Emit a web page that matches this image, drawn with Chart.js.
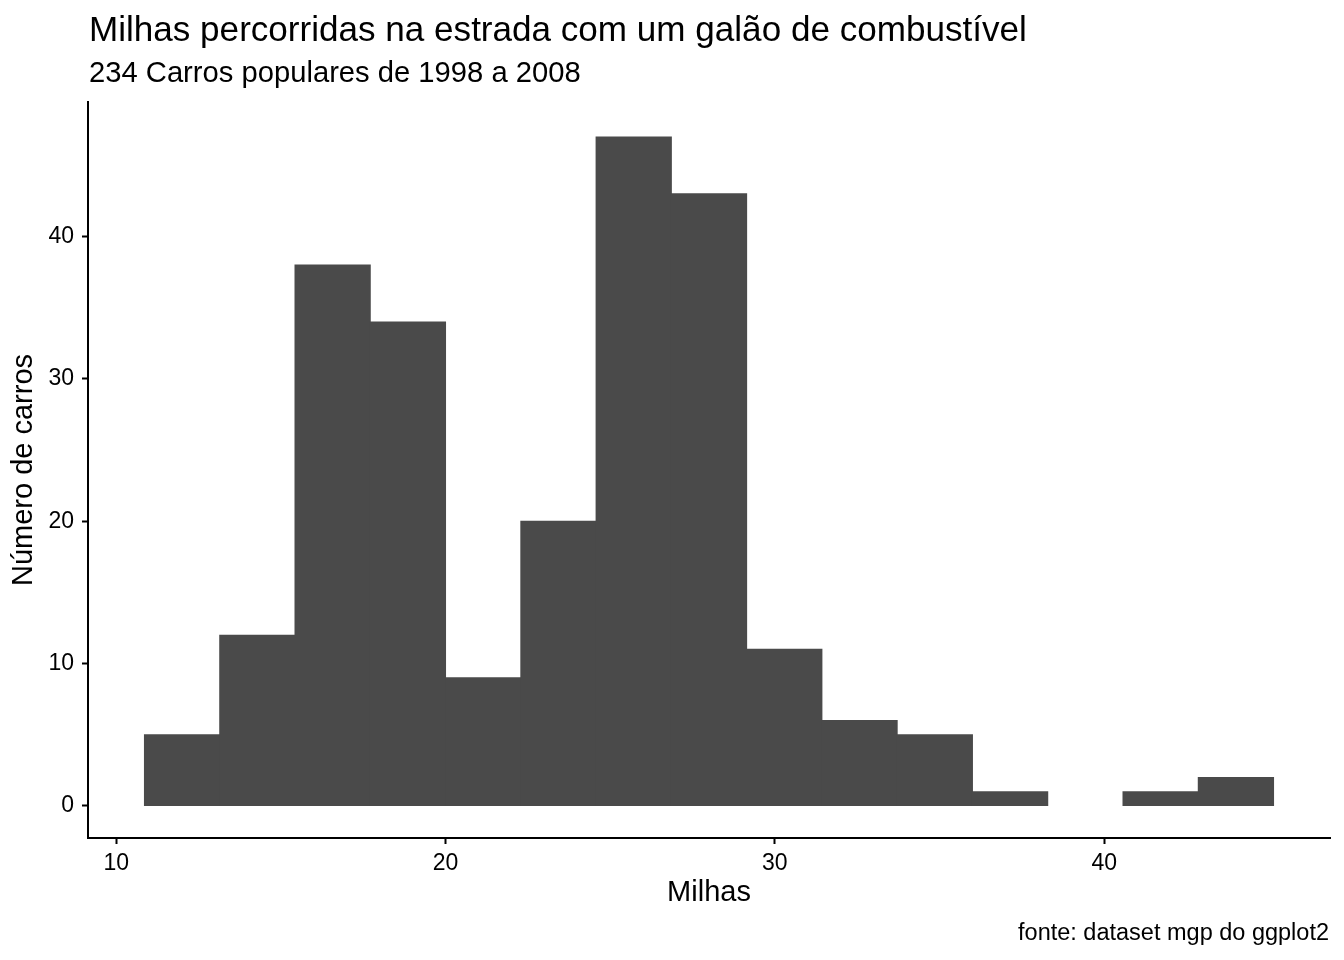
<!DOCTYPE html>
<html>
<head>
<meta charset="utf-8">
<script src="https://cdn.jsdelivr.net/npm/chart.js@4/dist/chart.umd.min.js"></script>
<style>
  body { margin: 0; background: #fff; }
  #wrap { position: relative; width: 1344px; height: 960px; font-family: "Liberation Sans", Arial, sans-serif; color: #000; }
  .txt { position: absolute; white-space: nowrap; }
  #title { left: 89px; top: 11px; font-size: 35.1px; line-height: 35px; }
  #subtitle { left: 89px; top: 58px; font-size: 29.2px; line-height: 29px; }
  #caption { right: 15px; top: 921px; font-size: 23.5px; line-height: 23px; }
</style>
</head>
<body>
<div id="wrap">
  <canvas id="hist"></canvas>
  <div id="title" class="txt">Milhas percorridas na estrada com um galão de combustível</div>
  <div id="subtitle" class="txt">234 Carros populares de 1998 a 2008</div>
  <div id="caption" class="txt">fonte: dataset mgp do ggplot2</div>
</div>
<script>
// centros dos bins (15 bins de largura ~2.29)
var bin_centers = [12, 14.2857, 16.5714, 18.8571, 21.1429, 23.4286, 25.7143, 28,
                   30.2857, 32.5714, 34.8571, 37.1429, 39.4286, 41.7143, 44];
var counts = [5, 12, 38, 34, 9, 20, 47, 43, 11, 6, 5, 1, 0, 1, 2];
var x_ticks = [10, 20, 30, 40];
var y_ticks = [0, 10, 20, 30, 40];

var points = [];
for (var i in bin_centers) {
  points.push({ x: bin_centers[i], y: counts[i] });
}

var font_family = "'Liberation Sans', Arial, sans-serif";

new Chart(document.getElementById("hist"), {
  type: 'bar',
  data: {
    datasets: [{
      data: points,
      backgroundColor: "#4a4a4a",
      borderWidth: 0,
      barPercentage: 1,
      categoryPercentage: 1,
      // no seams between bars, and nothing drawn for the empty bin
      inflateAmount: function(ctx) { return ctx.raw && ctx.raw.y > 0 ? 0.5 : 0; }
    }]
  },
  options: {
    responsive: true,
    maintainAspectRatio: false,
    animation: false,
    layout: { padding: { top: 102, right: 14, bottom: 50, left: 0 } },
    plugins: {
      legend: { display: false },
      tooltip: { enabled: false }
    },
    scales: {
      x: {
        type: 'linear',
        offset: false,
        min: 9.143,
        max: 46.857,
        afterFit: function(scale) { scale.height = 72; },
        afterBuildTicks: function(scale) {
          scale.ticks = x_ticks.map(function(v) { return { value: v }; });
        },
        ticks: {
          color: "#000",
          font: { family: font_family, size: 23 },
          padding: 6,
          maxRotation: 0
        },
        grid: {
          offset: false,
          drawOnChartArea: false,
          drawTicks: true,
          tickLength: 6,
          tickColor: "#000",
          tickWidth: 2
        },
        border: { display: true, color: "#000", width: 2 },
        title: {
          display: true,
          text: "Milhas",
          color: "#000",
          font: { family: font_family, size: 29 },
          padding: { top: 0, bottom: 0 }
        }
      },
      y: {
        type: 'linear',
        min: -2.25,
        max: 49.45,
        afterFit: function(scale) { scale.width = 88; },
        afterBuildTicks: function(scale) {
          scale.ticks = y_ticks.map(function(v) { return { value: v }; });
        },
        ticks: {
          color: "#000",
          font: { family: font_family, size: 23 },
          padding: 8
        },
        grid: {
          drawOnChartArea: false,
          drawTicks: true,
          tickLength: 6,
          tickColor: "#000",
          tickWidth: 2
        },
        border: { display: true, color: "#000", width: 2 },
        title: {
          display: true,
          text: "Número de carros",
          color: "#000",
          font: { family: font_family, size: 29 },
          padding: { top: 7, bottom: 0 }
        }
      }
    }
  }
});
</script>
</body>
</html>
